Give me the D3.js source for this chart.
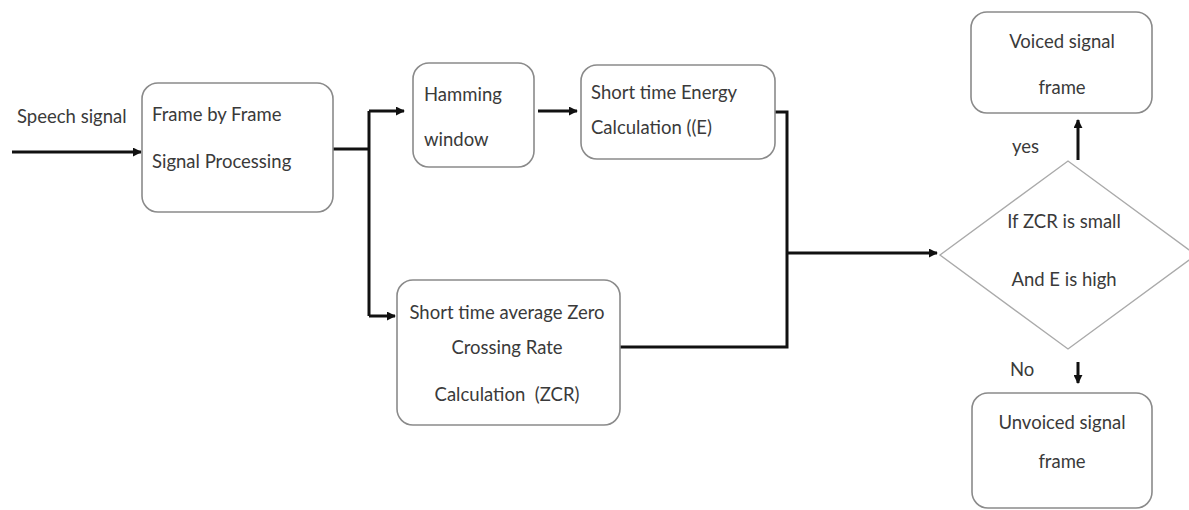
<!DOCTYPE html>
<html>
<head>
<meta charset="utf-8">
<script src="https://cdn.jsdelivr.net/npm/d3@7"></script>
<style>
  body { margin: 0; background: #fff; }
  svg text { font-family: Lato, "Open Sans", sans-serif; fill: #3a3a3a; }
</style>
</head>
<body>
<svg id="chart" width="1189" height="510"></svg>
<script>
// --- data ---
const nodeIds = ["frame", "hamming", "energy", "zcr", "decision", "voiced", "unvoiced"];
const nodeLabels = [
  ["Frame by Frame", "Signal Processing"],
  ["Hamming", "window"],
  ["Short time Energy", "Calculation ((E)"],
  ["Short time average Zero", "Crossing Rate", "Calculation  (ZCR)"],
  ["If ZCR is small", "And E is high"],
  ["Voiced signal", "frame"],
  ["Unvoiced signal", "frame"]
];
const inputLabel = "Speech signal";
const branchLabels = ["yes", "No"];

// --- layout (pixels) ---
const layout = {
  frame:    { x: 142, y: 83,  w: 191, h: 129, align: "start",  tx: 152, ty: [115, 162] },
  hamming:  { x: 413, y: 63,  w: 121, h: 104, align: "start",  tx: 424, ty: [95, 140] },
  energy:   { x: 581, y: 65,  w: 194, h: 94,  align: "start",  tx: 591, ty: [93, 128] },
  zcr:      { x: 397, y: 280, w: 223, h: 145, align: "middle", tx: 507, ty: [313, 348, 395] },
  decision: { cx: 1068, cy: 255, hw: 128, hh: 94, align: "middle", tx: 1064, ty: [222, 280] },
  voiced:   { x: 971, y: 12,  w: 181, h: 101, align: "middle", tx: 1062, ty: [42, 88] },
  unvoiced: { x: 972, y: 393, w: 180, h: 115, align: "middle", tx: 1062, ty: [423, 462] }
};

// connector polylines
const connectors = [
  { pts: [[12, 152], [141, 152]], arrow: true },
  { pts: [[333, 149], [369, 149]], arrow: false },
  { pts: [[369, 111], [369, 316]], arrow: false },
  { pts: [[369, 111], [404, 111]], arrow: true },
  { pts: [[369, 316], [395, 316]], arrow: true },
  { pts: [[538, 111], [577, 111]], arrow: true },
  { pts: [[775, 112], [787, 112], [787, 347], [620, 347]], arrow: false },
  { pts: [[787, 253], [937, 253]], arrow: true },
  { pts: [[1078, 160], [1078, 120]], arrow: true },
  { pts: [[1078, 362], [1078, 383]], arrow: true }
];

const fontSize = 18.5;
const svg = d3.select("#chart");

svg.append("defs").append("marker")
  .attr("id", "arrow")
  .attr("viewBox", "0 0 10 10")
  .attr("refX", 9)
  .attr("refY", 5)
  .attr("markerWidth", 3)
  .attr("markerHeight", 3)
  .attr("orient", "auto")
  .append("path")
  .attr("d", "M0,0 L10,5 L0,10 Z")
  .attr("fill", "#111");

const line = d3.line();

svg.selectAll(".conn")
  .data(connectors)
  .join("path")
  .attr("class", "conn")
  .attr("d", d => line(d.pts))
  .attr("fill", "none")
  .attr("stroke", "#111")
  .attr("stroke-width", 3)
  .attr("marker-end", d => d.arrow ? "url(#arrow)" : null);

// boxes
const nodes = nodeIds.map((id, i) => ({ id, lines: nodeLabels[i], ...layout[id] }));

svg.selectAll(".box")
  .data(nodes.filter(d => d.id !== "decision"))
  .join("rect")
  .attr("class", "box")
  .attr("x", d => d.x)
  .attr("y", d => d.y)
  .attr("width", d => d.w)
  .attr("height", d => d.h)
  .attr("rx", 16)
  .attr("ry", 16)
  .attr("fill", "#fff")
  .attr("stroke", "#8a8a8a")
  .attr("stroke-width", 1.6);

const dec = nodes.find(d => d.id === "decision");
svg.append("path")
  .attr("d", `M${dec.cx - dec.hw},${dec.cy} L${dec.cx},${dec.cy - dec.hh} L${dec.cx + dec.hw},${dec.cy} L${dec.cx},${dec.cy + dec.hh} Z`)
  .attr("fill", "#fff")
  .attr("stroke", "#aaa")
  .attr("stroke-width", 1.4);

// labels
nodes.forEach(n => {
  svg.selectAll(null)
    .data(n.lines)
    .join("text")
    .attr("x", n.tx)
    .attr("y", (d, i) => n.ty[i])
    .attr("dy", "0.35em")
    .attr("text-anchor", n.align)
    .attr("font-size", fontSize)
    .attr("xml:space", "preserve")
    .style("white-space", "pre")
    .text(d => d);
});

svg.append("text")
  .attr("x", 17).attr("y", 117).attr("dy", "0.35em")
  .attr("font-size", fontSize)
  .text(inputLabel);

svg.append("text")
  .attr("x", 1012).attr("y", 147).attr("dy", "0.35em")
  .attr("font-size", fontSize)
  .text(branchLabels[0]);

svg.append("text")
  .attr("x", 1010).attr("y", 370).attr("dy", "0.35em")
  .attr("font-size", fontSize)
  .text(branchLabels[1]);
</script>
</body>
</html>
